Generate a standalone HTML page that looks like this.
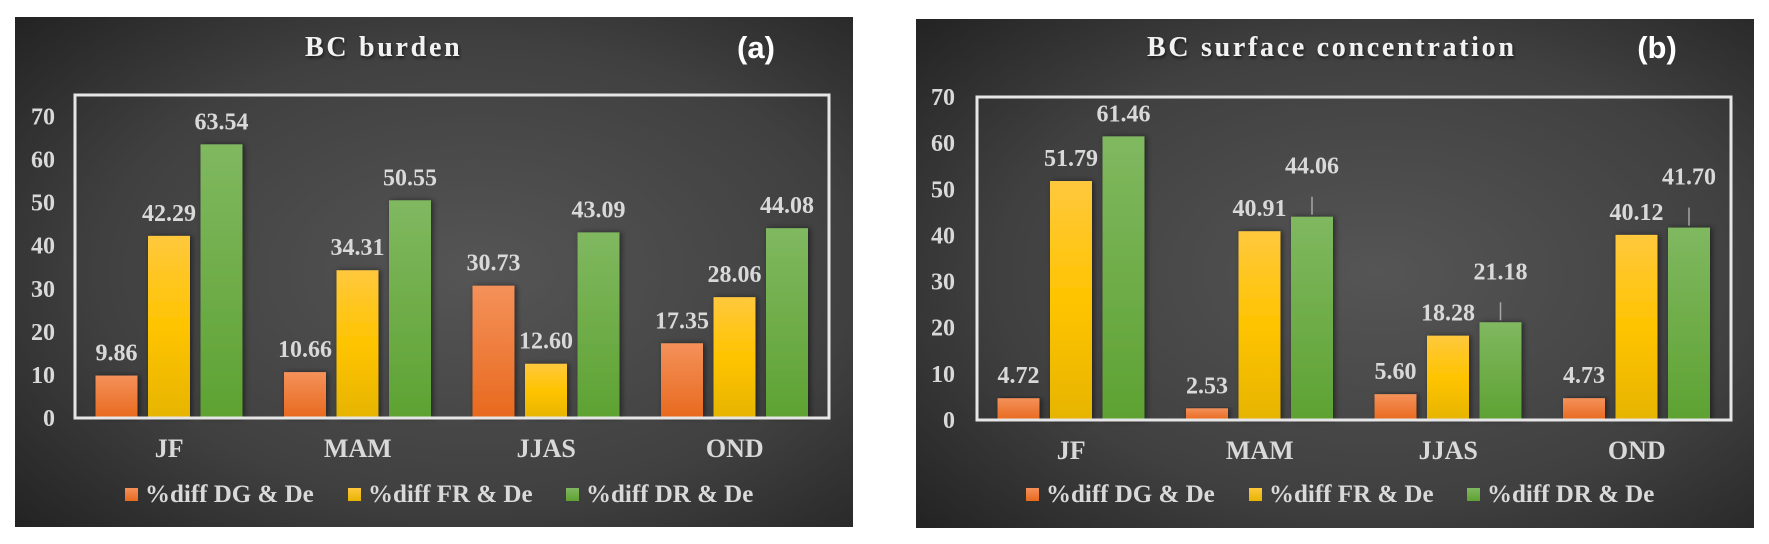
<!DOCTYPE html>
<html><head><meta charset="utf-8"><style>
html,body{margin:0;padding:0;background:#fff;}
svg{display:block;font-family:"Liberation Serif",serif;font-weight:bold;}
</style></head><body>
<svg id="chart" width="1769" height="544" viewBox="0 0 1769 544">
<defs>
<radialGradient id="bg" cx="0.55" cy="0.5" r="0.75">
<stop offset="0" stop-color="#555"/><stop offset="0.6" stop-color="#404040"/><stop offset="1" stop-color="#222"/>
</radialGradient>
<linearGradient id="gO" x1="0" y1="0" x2="0" y2="1"><stop offset="0" stop-color="#f4915a"/><stop offset="1" stop-color="#e8691e"/></linearGradient>
<linearGradient id="gY" x1="0" y1="0" x2="0" y2="1"><stop offset="0" stop-color="#ffc83d"/><stop offset="0.5" stop-color="#ffc400"/><stop offset="1" stop-color="#e6b400"/></linearGradient>
<linearGradient id="gG" x1="0" y1="0" x2="0" y2="1"><stop offset="0" stop-color="#80b860"/><stop offset="1" stop-color="#5ea232"/></linearGradient>
<filter id="sh" x="-30%" y="-10%" width="160%" height="120%"><feDropShadow dx="2" dy="0" stdDeviation="3" flood-color="#000" flood-opacity="0.5"/></filter>
<filter id="tsh"><feDropShadow dx="1" dy="2" stdDeviation="1.5" flood-color="#000" flood-opacity="0.6"/></filter>
</defs>
</svg>
<script>
const categories = ["JF","MAM","JJAS","OND"];
const seriesNames = ["%diff DG & De","%diff FR & De","%diff DR & De"];
const burdenDG = [9.86,10.66,30.73,17.35];
const burdenFR = [42.29,34.31,12.60,28.06];
const burdenDR = [63.54,50.55,43.09,44.08];
const surfDG = [4.72,2.53,5.60,4.73];
const surfFR = [51.79,40.91,18.28,40.12];
const surfDR = [61.46,44.06,21.18,41.70];
const burdenTicks = [0,10,20,30,40,50,60,70];
const surfTicks = [0,10,20,30,40,50,60,70];
const burdenMax = 75;
const surfMax = 70;

const NS="http://www.w3.org/2000/svg";
const svg=document.getElementById('chart');
function mk(tag,attrs,parent){const e=document.createElementNS(NS,tag);for(const k in attrs)e.setAttribute(k,attrs[k]);(parent||svg).appendChild(e);return e;}
const fills=["url(#gO)","url(#gY)","url(#gG)"];
const swatch=[["#f4915a","#e8691e"],["#ffc83d","#e6b400"],["#80b860","#5ea232"]];

function panel(o){
  const g=mk('g',{});
  
  
  const bg=mk('rect',{x:o.px,y:o.py,width:o.pw,height:o.ph,fill:'url(#bg)'},g);
  
  
  const t=mk('text',{x:o.tx,y:56,fill:'#f2f2f2','font-size':28,'letter-spacing':2.7,filter:'url(#tsh)'},g);
  t.textContent=o.title;
  
  
  const lab=mk('text',{x:o.lx,y:58,fill:'#fff','font-size':31,'text-anchor':'middle','font-family':'Liberation Sans, sans-serif'},g);
  lab.textContent=o.letter;
  
  
  const x0=o.bx,x1=o.bx2,y0=o.by,y1=o.bz;
  const yS=v=>y1-(v/o.max)*(y1-y0);
  const cw=(x1-x0)/categories.length;
  o.ticks.forEach(tv=>{
    const tt=mk('text',{x:o.yl,y:yS(tv)+8,fill:'#d9d9d9','font-size':24,'text-anchor':'end'},g);
    tt.textContent=tv;
    
    
  });
  const series=o.series;
  categories.forEach((c,i)=>{
    const cx=x0+cw*i;
    series.forEach((arr,s)=>{
      const bx=cx+20.5+s*52.5, v=arr[i], top=yS(v);
      const r=mk('rect',{x:bx,y:top,width:42,height:y1-top,fill:fills[s],filter:'url(#sh)'},g);
      
      
      const lift=(o.lead&&o.lead[s][i])?28:0;
      if(lift){
        const ln=mk('line',{x1:bx+21,x2:bx+21,y1:top-2,y2:top-lift+8,stroke:'#a6a6a6','stroke-width':1.5},g);
        
        
      }
      const dl=mk('text',{x:bx+21,y:top-15-lift,fill:'#d9d9d9','font-size':24,'text-anchor':'middle'},g);
      dl.textContent=v.toFixed(2);
      
      
    });
    const cl=mk('text',{x:cx+cw/2,y:y1+39,fill:'#d9d9d9','font-size':26,'text-anchor':'middle'},g);
    cl.textContent=c;
    
    
  });
  const box=mk('rect',{x:x0,y:y0,width:x1-x0,height:y1-y0,fill:'none',stroke:'#e6e6e6','stroke-width':3},g);
  
  
  const lxs=[110,333,551];
  seriesNames.forEach((n,s)=>{
    const lg=mk('g',{},g);
    
    
    const gid='lg'+o.letter.replace(/\W/g,'')+s;
    const lgr=mk('linearGradient',{id:gid,x1:0,y1:0,x2:0,y2:1},lg);
    mk('stop',{offset:0,'stop-color':swatch[s][0]},lgr);mk('stop',{offset:1,'stop-color':swatch[s][1]},lgr);
    const sw=mk('rect',{x:o.px+lxs[s],y:488,width:13,height:13,fill:'url(#'+gid+')'},lg);
    
    
    const lt=mk('text',{x:o.px+lxs[s]+20,y:502,fill:'#d9d9d9','font-size':25},lg);
    lt.textContent=n;
    
    
  });
}
panel({name:'bc-burden-chart',px:15,py:17,pw:838,ph:510,tx:305,lx:756,title:'BC burden',letter:'(a)',
  bx:75,bx2:829,by:95,bz:418,max:burdenMax,ticks:burdenTicks,yl:55,series:[burdenDG,burdenFR,burdenDR]});
panel({name:'bc-surface-chart',px:916,py:19,pw:838,ph:509,tx:1147,lx:1657,title:'BC surface concentration',letter:'(b)',
  bx:977,bx2:1731,by:97,bz:420,max:surfMax,ticks:surfTicks,yl:955,series:[surfDG,surfFR,surfDR],
  lead:[[0,0,0,0],[0,0,0,0],[0,1,1,1]]});
</script>
</body></html>
